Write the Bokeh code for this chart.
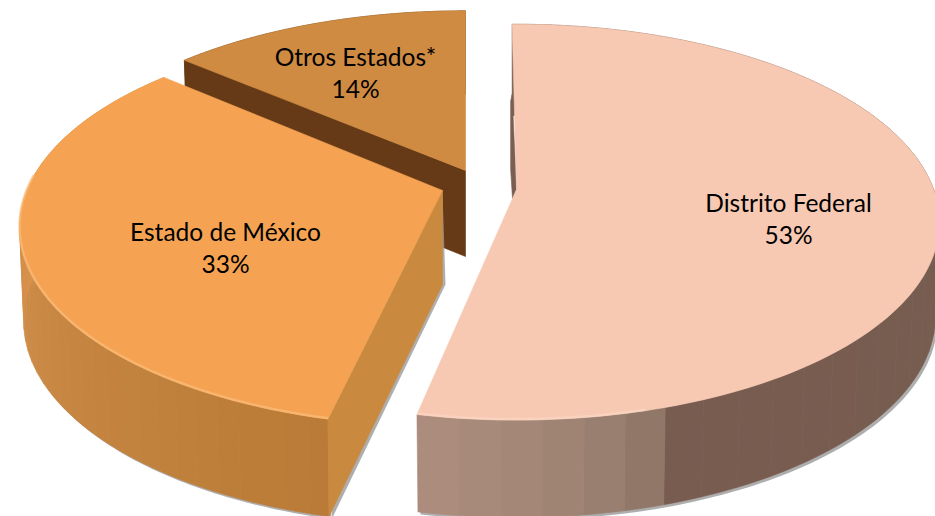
import numpy as np
from bokeh.plotting import figure
from bokeh.models import Range1d
from bokeh.core.properties import value
from bokeh.embed import file_html
from bokeh.resources import INLINE

# ---- data ----
categories = ["Distrito Federal", "Estado de México", "Otros Estados*"]
shares = [53.4, 33.0, 13.6]

# ---- style / layout ----
TOP_COLORS = ["#F7C9B2", "#F5A352", "#D08B42"]
CUT_COLORS = ["#7A5E52", "#C98A40", "#663A16"]
RIM_COLORS = ["#FBD8C6", "#FBBE7E", "#D08B42"]
WALL_STOPS = [
    [(0, "#755B50"), (161, "#785C50"), (164, "#8E7466"), (172, "#9C8272"), (181, "#A58878"), (193, "#AE8E7E")],
    [(190, "#B87A36"), (225, "#C4843F"), (250, "#CC8C48"), (270, "#D8924C"), (312, "#DE9650")],
    [(310, "#663A16"), (360, "#663A16")],
]
APEX = [(516, 189), (442, 190), (465, 170)]
CENTER = [(516, 189), (442, 194), (465, 170)]
SCALE_X = [1.03, 1.03, 1.02]
SCALE_Y = [0.9626, 0.969, 0.93]
ANGLE_SHIFT = [-0.7, 1.1, 0.0]
DEPTHS = [94, 94, 86]
RADIUS, HEIGHT, PERSP = 405, 200, 0.165
LABELS = [(788, 202), (225, 231), (355, 56)]
FONT = "Lato"
FONT_PX = 24.5
LINE_GAP = 32


def hexrgb(c):
    return np.array([int(c[i:i + 2], 16) for i in (1, 3, 5)], float)


def wall_color(stops, a):
    ang = [s[0] for s in stops]
    rgb = np.array([hexrgb(s[1]) for s in stops])
    return "#%02x%02x%02x" % tuple(int(round(np.interp(a, ang, rgb[:, i]))) for i in range(3))


def project(i, deg, down=False):
    a = np.radians(deg + ANGLE_SHIFT[i])
    X, Y = np.sin(a), np.cos(a)
    s = 1 / (1 + PERSP * Y)
    x = X * RADIUS * s * SCALE_X[i]
    y = -Y * HEIGHT * s * SCALE_Y[i]
    if down:
        x = x * 0.99
        y = y + DEPTHS[i] * s ** 0.2
    return CENTER[i][0] + x, CENTER[i][1] + y


edges = np.concatenate([[0], np.cumsum(shares)]) * 3.6

p = figure(width=935, height=516, output_backend="svg", toolbar_location=None,
           x_range=Range1d(0, 935), y_range=Range1d(516, 0),
           min_border=0, background_fill_color="white", border_fill_color="white")
p.axis.visible = False
p.grid.visible = False
p.outline_line_color = None


def poly(xs, ys, color, alpha=1.0):
    p.patch(list(xs), list(ys), fill_color=color, line_color=color if alpha == 1.0 else None,
            fill_alpha=alpha, line_width=0.6)


for i in [2, 1, 0]:
    a0, a1 = edges[i], edges[i + 1]
    angs = np.linspace(a0, a1, 160)
    top = np.array([project(i, a) for a in angs])
    bot = np.array([project(i, a, down=True) for a in angs])
    ax, ay = APEX[i]
    bx, by = ax, ay + DEPTHS[i]

    # soft shadow under the solid: only along lower edges
    if i != 2:
        poly(np.concatenate([top[:, 0], bot[::-1, 0] + 2.5]),
             np.concatenate([top[:, 1], bot[::-1, 1] + 2.5]), "#9A9A9A", 0.8)
    if i == 1:
        poly([ax, bx + 3, bot[0, 0] + 3, top[0, 0]],
             [ay, by, bot[0, 1] + 2, top[0, 1]], "#9A9A9A", 0.8)

    # outer wall, in flat bands
    bands = np.linspace(0, len(angs) - 1, 41).astype(int)
    for j in range(len(bands) - 1):
        u, v = bands[j], bands[j + 1] + 1
        mid = (angs[u] + angs[v - 1]) / 2
        poly(np.concatenate([top[u:v, 0], bot[u:v, 0][::-1]]),
             np.concatenate([top[u:v, 1], bot[u:v, 1][::-1]]),
             wall_color(WALL_STOPS[i], mid))

    # cut faces: the one turned towards the viewer in each slice
    if i in (1, 2):
        poly([ax, top[0, 0], bot[0, 0], bx], [ay, top[0, 1], bot[0, 1], by], CUT_COLORS[i])
    if i == 0:
        # thin sliver of the start cut seen edge-on
        poly([top[0, 0] - 1.5, top[0, 0], ax, ax - 4, top[0, 0] - 1.5],
             [top[0, 1] + 77, top[0, 1] + 70, ay, ay + 9, ay - 20], CUT_COLORS[i])

    # top face
    poly(np.concatenate([[ax], top[:, 0]]), np.concatenate([[ay], top[:, 1]]), TOP_COLORS[i])

    # light rim on the front edge
    if i == 0:
        keep = angs > 165
    elif i == 1:
        keep = angs < 275
    else:
        keep = np.zeros_like(angs, bool)
    if keep.any():
        p.line(top[keep, 0], top[keep, 1] - 1, line_color=RIM_COLORS[i], line_width=2.5, line_alpha=0.65)

for i, (lx, ly) in enumerate(LABELS):
    p.text([lx], [ly], text=[categories[i]], text_font=value(FONT), text_font_size=f"{FONT_PX}px",
           text_align="center", text_baseline="middle", text_color="#000000")
    p.text([lx], [ly + LINE_GAP], text=[f"{round(shares[i])}%"], text_font=value(FONT),
           text_font_size=f"{FONT_PX}px", text_align="center", text_baseline="middle", text_color="#000000")

open("out.html", "w").write(file_html(p, INLINE))
